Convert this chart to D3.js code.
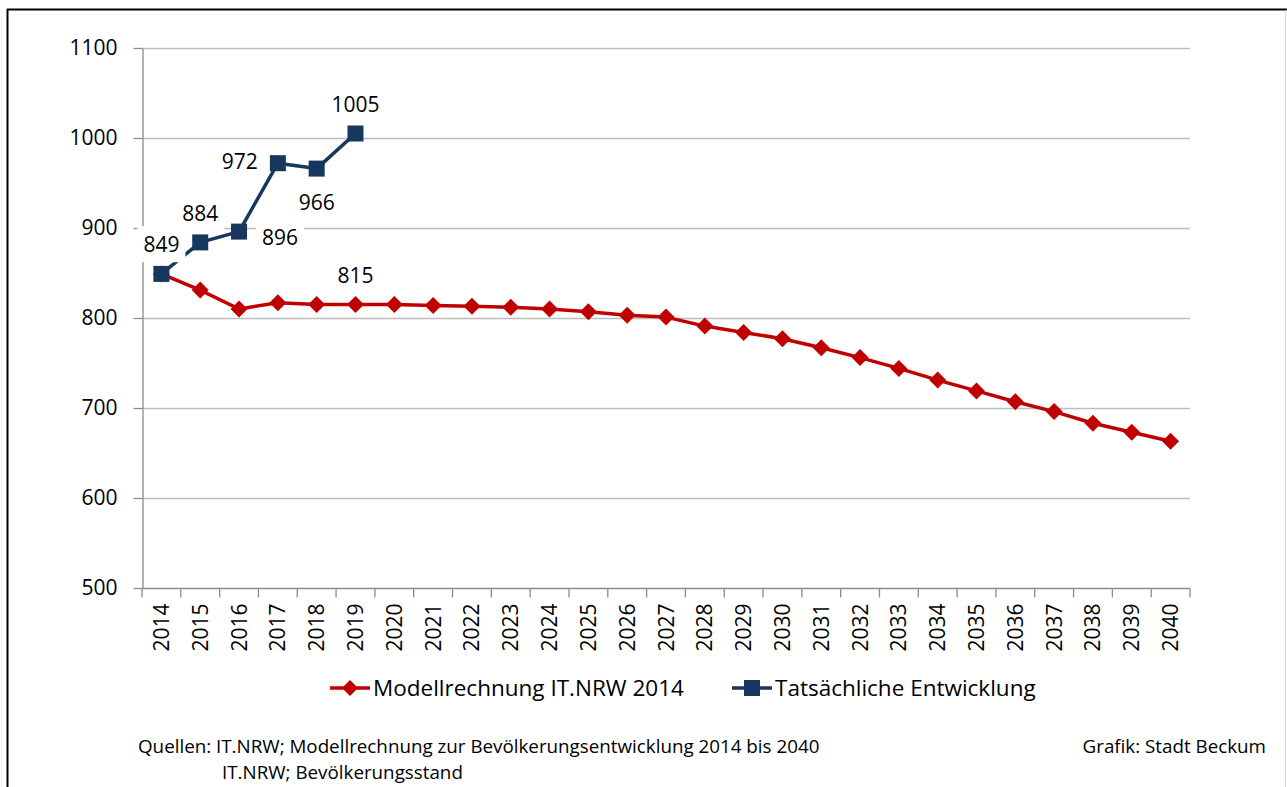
<!DOCTYPE html>
<html>
<head>
<meta charset="utf-8">
<script src="https://cdn.jsdelivr.net/npm/d3@7"></script>
<style>
    html, body { margin: 0; padding: 0; background: #fff; }
    svg { display: block; font-family: "Open Sans", "Noto Sans", sans-serif; }
</style>
</head>
<body>
<svg id="chart" width="1287" height="787"></svg>
<script>
// Data
const years = d3.range(2014, 2041).map(String);
const modellValues = [849, 831, 810, 817, 815, 815, 815, 814, 813, 812, 810, 807, 803, 801,
    791, 784, 777, 767, 756, 744, 731, 719, 707, 696, 683, 673, 663];
const actualYears = ['2014', '2015', '2016', '2017', '2018', '2019'];
const actualValues = [849, 884, 896, 972, 966, 1005];
const yTicks = [500, 600, 700, 800, 900, 1000, 1100];
const seriesNames = ['Modellrechnung IT.NRW 2014', 'Tatsächliche Entwicklung'];

// where each blue label sits relative to its point
const actualLabelPos = ['above', 'above', 'right', 'left', 'below', 'above'];
// red series: only 2019 is labelled
const modellLabelYears = ['2019'];

// Config
const red = '#C00000';
const blue = '#17375E';
const gridColor = '#BDBDBD';
const axisColor = '#8C8C8C';
const plot = { left: 142, right: 1190, top: 48, bottom: 588 };
const tickFont = '21px';

const svg = d3.select('#chart');

// Outer frame
svg.append('line').attr('x1', 7).attr('x2', 1287).attr('y1', 9.5).attr('y2', 9.5)
    .attr('stroke', '#000').attr('stroke-width', 2);
svg.append('line').attr('x1', 7.5).attr('x2', 7.5).attr('y1', 9).attr('y2', 787)
    .attr('stroke', '#000').attr('stroke-width', 2);
svg.append('line').attr('x1', 1285.5).attr('x2', 1285.5).attr('y1', 10).attr('y2', 787)
    .attr('stroke', '#D9D9D9').attr('stroke-width', 1);

// Scales
const x = d3.scaleBand().domain(years).range([plot.left, plot.right]).padding(0);
const y = d3.scaleLinear().domain([500, 1100]).range([plot.bottom, plot.top]);
const cx = d => x(d) + x.bandwidth() / 2;

// Gridlines
svg.append('g').selectAll('line')
    .data(yTicks.filter(t => t > 500))
    .enter().append('line')
    .attr('x1', plot.left).attr('x2', plot.right)
    .attr('y1', d => Math.round(y(d)) + 0.5).attr('y2', d => Math.round(y(d)) + 0.5)
    .attr('stroke', gridColor).attr('stroke-width', 1.3);

// Y axis
const yAxis = svg.append('g')
    .attr('transform', `translate(${plot.left + 0.5},0)`)
    .call(d3.axisLeft(y).tickValues(yTicks).tickFormat(d3.format('d'))
        .tickSize(9).tickSizeOuter(0).tickPadding(16));
yAxis.select('.domain').attr('stroke', axisColor).attr('stroke-width', 1.3);
yAxis.selectAll('.tick line').attr('stroke', axisColor).attr('stroke-width', 1.3);
yAxis.selectAll('.tick text')
    .attr('fill', '#000').style('font-size', tickFont).style('font-family', '"Open Sans", sans-serif');

// X axis: ticks between categories
const xAxis = svg.append('g').attr('transform', `translate(0,${plot.bottom + 0.5})`);
xAxis.append('line').attr('x1', plot.left).attr('x2', plot.right)
    .attr('stroke', axisColor).attr('stroke-width', 1.3);
xAxis.selectAll('line.tk')
    .data(years.concat(['end']))
    .enter().append('line').attr('class', 'tk')
    .attr('x1', d => d === 'end' ? plot.right : x(d))
    .attr('x2', d => d === 'end' ? plot.right : x(d))
    .attr('y1', 0).attr('y2', 9)
    .attr('stroke', axisColor).attr('stroke-width', 1.3);
xAxis.selectAll('text')
    .data(years)
    .enter().append('text')
    .attr('transform', d => `translate(${cx(d) + 7.5},15) rotate(-90)`)
    .attr('text-anchor', 'end')
    .style('font-size', tickFont)
    .text(d => d);

// Lines
const line = d3.line().x(d => cx(d.year)).y(d => y(d.value));
const modell = years.map((yr, i) => ({ year: yr, value: modellValues[i] }));
const actual = actualYears.map((yr, i) => ({ year: yr, value: actualValues[i] }));

function diamond(sel, r) {
    return sel.attr('d', `M0,${-r}L${r},0L0,${r}L${-r},0Z`);
}

svg.append('path').datum(modell)
    .attr('d', line).attr('fill', 'none').attr('stroke', red).attr('stroke-width', 3.5)
    .attr('stroke-linejoin', 'round');
svg.append('g').selectAll('path')
    .data(modell).enter().append('path')
    .attr('transform', d => `translate(${cx(d.year)},${y(d.value)})`)
    .call(diamond, 8.5)
    .attr('fill', red);

svg.append('path').datum(actual)
    .attr('d', line).attr('fill', 'none').attr('stroke', blue).attr('stroke-width', 3.5)
    .attr('stroke-linejoin', 'round');

// Data labels (white boxes, as in the original)
const labelLayer = svg.append('g');
function addLabel(px, py, text) {
    const g = labelLayer.append('g').attr('transform', `translate(${px},${py})`);
    const t = g.append('text')
        .attr('text-anchor', 'middle').attr('dy', '0.35em')
        .style('font-size', tickFont).text(text);
    const bb = t.node().getBBox();
    g.insert('rect', 'text')
        .attr('x', bb.x - 6).attr('y', bb.y - 4)
        .attr('width', bb.width + 12).attr('height', bb.height + 8)
        .attr('fill', '#fff');
}
const offsets = { above: [0, -29], below: [0, 34], left: [-38, -2], right: [41, 6] };

svg.append('g').selectAll('rect')
    .data(actual).enter().append('rect')
    .attr('x', d => cx(d.year) - 8).attr('y', d => y(d.value) - 8)
    .attr('width', 16).attr('height', 16)
    .attr('fill', blue);

actual.forEach((d, i) => {
    const o = offsets[actualLabelPos[i]];
    addLabel(cx(d.year) + o[0], y(d.value) + o[1], d.value);
});
modell.filter(d => modellLabelYears.includes(d.year)).forEach(d => {
    addLabel(cx(d.year), y(d.value) - 29, d.value);
});

// Legend
const legend = svg.append('g').attr('transform', 'translate(0,688)');
const legendItems = [
    { name: seriesNames[0], color: red, shape: 'diamond', x0: 330 },
    { name: seriesNames[1], color: blue, shape: 'square', x0: 732 }
];
legendItems.forEach(it => {
    const g = legend.append('g').attr('transform', `translate(${it.x0},0)`);
    g.append('line').attr('x1', 0).attr('x2', 40).attr('y1', 0).attr('y2', 0)
        .attr('stroke', it.color).attr('stroke-width', 3.5);
    if (it.shape === 'diamond') {
        g.append('path').attr('transform', 'translate(20,0)').call(diamond, 8).attr('fill', it.color);
    } else {
        g.append('rect').attr('x', 12).attr('y', -8).attr('width', 16).attr('height', 16).attr('fill', it.color);
    }
    g.append('text').attr('x', 43).attr('dy', '0.35em')
        .style('font-size', '22.5px').text(it.name);
});

// Footer
const foot = svg.append('g').style('font-size', '18.8px');
foot.append('text').attr('x', 138).attr('y', 753)
    .text('Quellen: IT.NRW; Modellrechnung zur Bevölkerungsentwicklung 2014 bis 2040');
foot.append('text').attr('x', 222).attr('y', 779).text('IT.NRW; Bevölkerungsstand');
foot.append('text').attr('x', 1266).attr('y', 753).attr('text-anchor', 'end').text('Grafik: Stadt Beckum');
</script>
</body>
</html>
